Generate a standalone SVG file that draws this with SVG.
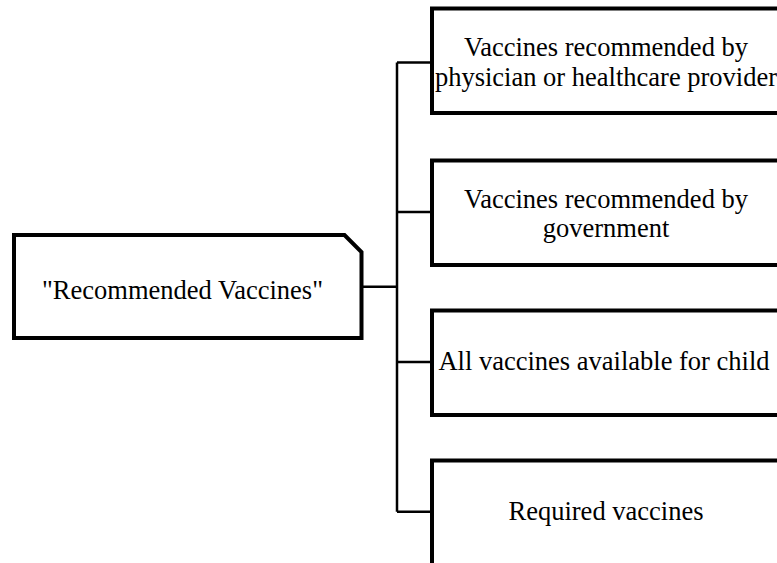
<svg xmlns="http://www.w3.org/2000/svg" width="777" height="563" viewBox="0 0 777 563">
  <style>
    .box { fill: #ffffff; stroke: #000000; stroke-width: 4; }
    .link { fill: none; stroke: #000000; stroke-width: 2.5; }
    .label { font-family: "Liberation Serif", "Times New Roman", serif; font-size: 26.5px; fill: #000000; text-anchor: middle; }
  </style>
  <rect width="777" height="563" fill="#ffffff"/>

  <!-- connectors: stub from the root, shared bus, one branch per option -->
  <g id="connectors">
    <path class="link" d="M361.5,286.7 H397"/>
    <path class="link" d="M397,62.5 V511.7"/>
    <path class="link" d="M397,62.5 H432"/>
    <path class="link" d="M397,212 H432"/>
    <path class="link" d="M397,362 H432"/>
    <path class="link" d="M397,511.7 H432"/>
  </g>

  <!-- root node with clipped top-right corner -->
  <g id="root">
    <path class="box" d="M14,235 H344.5 L361.5,252 V338 H14 Z"/>
    <text class="label" x="182.5" y="299">"Recommended Vaccines"</text>
  </g>

  <g id="option-physician">
    <rect class="box" x="432" y="8.5" width="348" height="104.5"/>
    <text class="label" x="606" y="56">Vaccines recommended by</text>
    <text class="label" x="606" y="85.5">physician or healthcare provider</text>
  </g>

  <g id="option-government">
    <rect class="box" x="432" y="160.5" width="348" height="104.5"/>
    <text class="label" x="606" y="207.5">Vaccines recommended by</text>
    <text class="label" x="606" y="237">government</text>
  </g>

  <g id="option-all">
    <rect class="box" x="432" y="310.5" width="348" height="104.5"/>
    <text class="label" x="604" y="370">All vaccines available for child</text>
  </g>

  <g id="option-required">
    <rect class="box" x="432" y="460.5" width="348" height="104.5"/>
    <text class="label" x="606" y="520">Required vaccines</text>
  </g>
</svg>
